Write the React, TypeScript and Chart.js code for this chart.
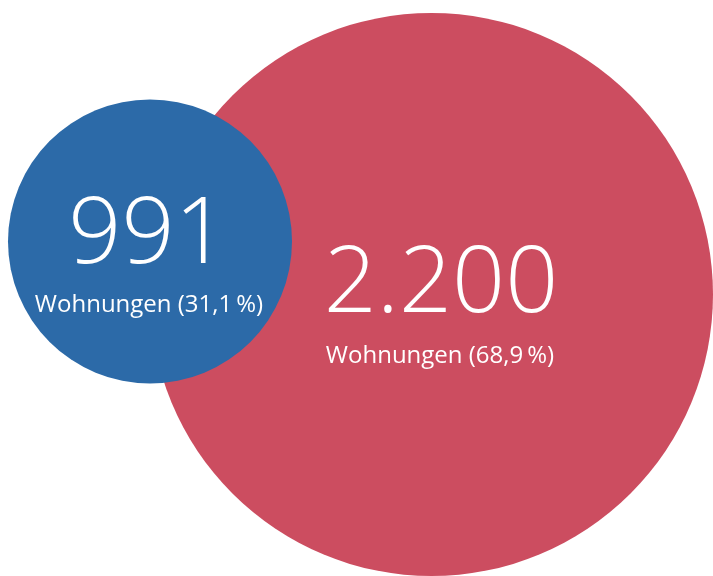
import React, { useEffect, useRef } from "react";
import { Chart, registerables } from "chart.js";

Chart.register(...registerables);

// Data
const groups = ["Gruppe A", "Gruppe B"];
const counts = [991, 2200];
const countLabels = ["991", "2.200"];
const shareLabels = ["Wohnungen (31,1\u2009%)", "Wohnungen (68,9\u2009%)"];
const bubbleX = [150, 431.5];
const bubbleY = [241.5, 294.5];
const bubbleR = [142, 281.5];
const colors = ["#2C6AA8", "#CC4D60"];

const FONT = "'Open Sans', 'Noto Sans', sans-serif";

export default function App() {
  const ref = useRef<HTMLCanvasElement>(null);
  useEffect(() => {
    document.body.style.margin = "0";
    const canvas = ref.current!;
    const numOffsets = [
      { dx: -2, dy: 21.5 },
      { dx: 9.5, dy: 17.5 },
    ];
    const lblOffsets = [
      { dx: -1, dy: 70 },
      { dx: 8.5, dy: 68.5 },
    ];
    const chart = new Chart(canvas, {
      type: "bubble",
      data: {
        datasets: groups.map((g, i) => ({
          label: g,
          data: [{ x: bubbleX[i], y: bubbleY[i], r: bubbleR[i], v: counts[i] } as any],
          backgroundColor: colors[i],
          borderWidth: 0,
          hoverBorderWidth: 0,
          clip: false as any,
        })),
      },
      options: {
        animation: false,
        responsive: false,
        maintainAspectRatio: false,
        layout: { padding: 0, autoPadding: false } as any,
        plugins: {
          legend: { display: false },
          tooltip: { enabled: false },
        },
        events: [],
        scales: {
          x: { type: "linear", min: 0, max: 713, display: false },
          y: { type: "linear", min: 0, max: 576, reverse: true, display: false },
        },
      },
      plugins: [
        {
          id: "bubbleLabels",
          afterDatasetsDraw(c: any) {
            const ctx = c.ctx;
            groups.forEach((_, i) => {
              const el = c.getDatasetMeta(i).data[0];
              if (!el) return;
              ctx.save();
              ctx.fillStyle = "#ffffff";
              ctx.textAlign = "center";
              ctx.textBaseline = "alphabetic";
              ctx.font = `300 93px ${FONT}`;
              ctx.fillText(countLabels[i], el.x + numOffsets[i].dx, el.y + numOffsets[i].dy);
              ctx.font = `400 24px ${FONT}`;
              ctx.fillText(shareLabels[i], el.x + lblOffsets[i].dx, el.y + lblOffsets[i].dy);
              ctx.restore();
            });
          },
        },
      ],
    });
    return () => chart.destroy();
  }, []);
  return (
    <div style={{ position: "relative", width: 713, height: 576, background: "#fff" }}>
      <canvas ref={ref} width={713} height={576} style={{ display: "block", width: 713, height: 576 }} />
    </div>
  );
}
